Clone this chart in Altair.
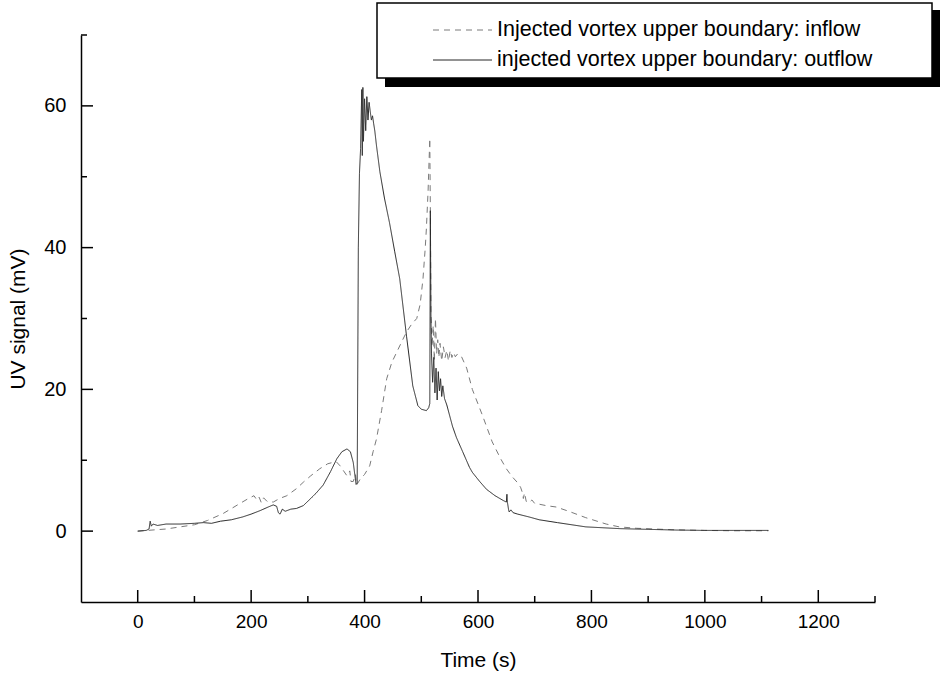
import altair as alt
import pandas as pd

# ---------------- data ----------------
series_names = ["Injected vortex upper boundary: inflow",
                "injected vortex upper boundary: outflow"]

out_t = [0, 15, 20, 22, 24, 27, 35, 50, 75, 100, 116, 130, 146, 165, 185, 200, 216, 230, 239, 245,
         248, 251, 255, 260, 270, 280, 292, 305, 315, 327, 340, 351, 360, 369, 375, 380, 385, 387,
         389, 391, 393, 395, 396, 397, 398, 400, 402, 404, 406, 408, 410, 412, 414, 416, 418, 421,
         427, 435, 444, 453, 462, 474, 485, 494, 500, 509, 513, 515, 516, 517, 518, 520, 522, 524,
         526, 528, 530, 532, 534, 536, 538, 541, 545, 555, 562, 573, 585, 590, 603, 615, 630, 645,
         650, 651, 652, 654, 655, 658, 662, 670, 690, 708, 740, 790, 850, 900, 950, 1000, 1050, 1112]
out_v = [0.0, 0.1, 0.3, 1.4, 0.7, 1.0, 0.8, 1.0, 1.0, 1.1, 1.2, 1.1, 1.4, 1.6, 2.0, 2.4, 2.9, 3.4, 3.7, 3.5,
         2.6, 2.4, 3.1, 2.8, 3.1, 3.2, 3.6, 4.6, 5.4, 6.5, 8.4, 10.2, 11.2, 11.6, 11.2, 9.7, 6.6, 6.8,
         40.0, 50.5, 54.0, 62.3, 53.0, 62.6, 55.0, 61.0, 56.5, 61.3, 58.0, 60.5, 59.2, 58.0, 58.6, 57.5, 56.5, 54.4,
         50.7, 47.0, 43.5, 39.5, 35.6, 27.5, 20.5, 17.7, 17.2, 17.0, 17.4, 18.0, 45.2, 30.0, 25.0, 21.0, 24.5, 19.5,
         23.0, 18.5, 22.5, 19.8, 21.5, 19.0, 20.5, 18.7, 17.8, 14.8, 13.2, 11.2, 9.0, 8.3, 7.0, 5.9, 5.0, 4.3,
         4.1, 5.2, 4.0, 3.0, 2.7, 3.0, 2.6, 2.4, 2.0, 1.6, 1.2, 0.6, 0.35, 0.25, 0.15, 0.1, 0.1, 0.1]

in_t = [0, 50, 100, 123, 151, 176, 193, 205, 210, 214, 218, 222, 228, 239, 250, 263, 280, 292, 305, 321,
        335, 344, 350, 357, 363, 369, 374, 376, 380, 384, 386, 392, 400, 409, 415, 421, 430, 439, 448, 457,
        466, 474, 483, 492, 498, 503, 507, 509, 512, 515, 516, 517, 519, 521, 523, 525, 527, 529, 531, 533,
        536, 539, 542, 545, 548, 551, 554, 557, 560, 564, 568, 571, 580, 590, 608, 625, 640, 650, 660, 669,
        675, 678, 680, 682, 685, 690, 695, 700, 708, 720, 738, 760, 790, 826, 849, 880, 942, 1000, 1050, 1112]
in_v = [0.0, 0.3, 0.9, 1.5, 2.5, 3.7, 4.5, 5.0, 4.4, 4.8, 4.0, 4.7, 4.2, 4.1, 4.6, 5.0, 6.0, 6.9, 7.8, 8.8,
        9.5, 9.7, 9.8, 9.2, 8.5, 7.8, 8.5, 7.0, 7.0, 8.0, 6.5, 7.3, 8.0, 9.2, 11.2, 13.0, 17.0, 21.5, 23.8, 25.3,
        26.8, 28.1, 29.2, 30.0, 32.0, 35.6, 40.0, 42.7, 48.0, 55.4, 45.0, 31.0, 26.0, 29.0, 24.0, 30.0, 25.0, 27.0, 24.5, 26.5,
        24.0, 26.0, 24.5, 25.5, 24.0, 25.5, 24.5, 25.2, 24.6, 25.0, 24.8, 24.6, 23.0, 20.0, 16.3, 12.6, 10.2, 8.8, 7.7, 6.9,
        6.2, 5.5, 4.6, 5.4, 4.2, 4.0, 4.4, 3.9, 3.8, 3.6, 3.4, 2.8, 1.9, 1.0, 0.6, 0.4, 0.2, 0.1, 0.05, 0.05]

x_major = [0, 200, 400, 600, 800, 1000, 1200]
x_minor = [100, 300, 500, 700, 900, 1100, 1300]
y_major = [0, 20, 40, 60]
y_minor = [10, 30, 50, 70]

# ---------------- layout ----------------
W, H = 794, 567
FONT = "Liberation Sans"

df = pd.concat([
    pd.DataFrame({"t": in_t, "v": in_v, "series": series_names[0]}),
    pd.DataFrame({"t": out_t, "v": out_v, "series": series_names[1]}),
])

xs = alt.Scale(domain=[-100, 1300], nice=False, zero=False)
ys = alt.Scale(domain=[-10, 70], nice=False, zero=False)

x_axis = alt.Axis(
    values=x_major, format="d", ticks=False, grid=False, domainColor="black", domainWidth=1.5,
    labelFont=FONT, labelFontSize=19, labelColor="black", labelPadding=10,
    title="Time (s)", titleFont=FONT, titleFontSize=21, titleFontWeight="normal",
    titleColor="black", titlePadding=18)
y_axis = alt.Axis(
    values=y_major, format="d", ticks=False, grid=False, domainColor="black", domainWidth=1.5,
    labelFont=FONT, labelFontSize=20, labelColor="black", labelPadding=15,
    title="UV signal (mV)", titleFont=FONT, titleFontSize=21, titleFontWeight="normal",
    titleColor="black", titlePadding=15)

lines = alt.Chart(df).mark_line(strokeWidth=1, clip=True).encode(
    x=alt.X("t:Q", scale=xs, axis=x_axis),
    y=alt.Y("v:Q", scale=ys, axis=y_axis),
    color=alt.Color("series:N", scale=alt.Scale(domain=series_names, range=["#7a7a7a", "#262626"]),
                    legend=None),
    strokeDash=alt.StrokeDash("series:N", scale=alt.Scale(domain=series_names, range=[[6, 5], [1, 0]]),
                              legend=None),
)

def yticks(vals, length):
    return alt.Chart(pd.DataFrame({"v": vals})).mark_rule(color="black", strokeWidth=1.5).encode(
        y=alt.Y("v:Q", scale=ys, axis=y_axis), x=alt.value(0), x2=alt.value(length))

def xticks(vals, length):
    return alt.Chart(pd.DataFrame({"t": vals})).mark_rule(color="black", strokeWidth=1.5).encode(
        x=alt.X("t:Q", scale=xs, axis=x_axis), y=alt.value(H), y2=alt.value(H - length))

one = pd.DataFrame({"a": [0]})
shadow = alt.Chart(one).mark_rect(color="black").encode(
    x=alt.value(304), x2=alt.value(859), y=alt.value(-25), y2=alt.value(52))
box = alt.Chart(one).mark_rect(fill="white", stroke="black", strokeWidth=1.5).encode(
    x=alt.value(296), x2=alt.value(851), y=alt.value(-32), y2=alt.value(43))
leg_dash = alt.Chart(one).mark_rule(color="#7a7a7a", strokeWidth=1, strokeDash=[6, 5]).encode(
    x=alt.value(352), x2=alt.value(411), y=alt.value(-5))
leg_solid = alt.Chart(one).mark_rule(color="#262626", strokeWidth=1).encode(
    x=alt.value(352), x2=alt.value(411), y=alt.value(25))
leg_t1 = alt.Chart(pd.DataFrame({"s": [series_names[0]]})).mark_text(
    align="left", baseline="middle", font=FONT, fontSize=21.5, color="black").encode(
    text="s:N", x=alt.value(416), y=alt.value(-5))
leg_t2 = alt.Chart(pd.DataFrame({"s": [series_names[1]]})).mark_text(
    align="left", baseline="middle", font=FONT, fontSize=21.5, color="black").encode(
    text="s:N", x=alt.value(416), y=alt.value(25))

chart = alt.layer(
    lines, yticks(y_major, 12), yticks(y_minor, 6), xticks(x_major, 12), xticks(x_minor, 6),
    shadow, box, leg_dash, leg_solid, leg_t1, leg_t2
).properties(
    width=W, height=H,
    background="white",
    autosize=alt.AutoSizeParams(type="none"),
    padding={"left": 81, "top": 35, "right": 67, "bottom": 74},
).configure_view(stroke=None)

chart.save("out.html", embed_options={"renderer": "svg", "actions": False})
